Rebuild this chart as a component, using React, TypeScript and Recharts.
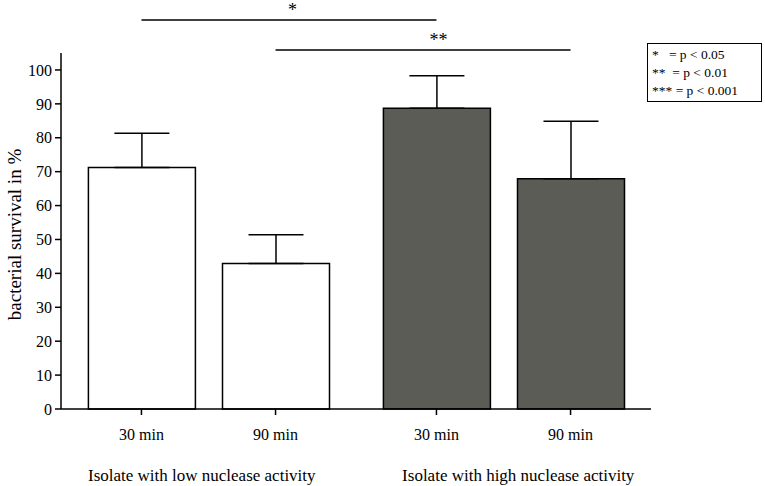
import React from "react";
import {
  BarChart,
  Bar,
  Cell,
  XAxis,
  YAxis,
  ErrorBar,
  ReferenceLine,
} from "recharts";

const categories = ["30 min", "90 min", "30 min", "90 min"];
const positions = [1, 2, 3.2, 4.2];
const survival = [71.2, 42.9, 88.7, 67.9];
const survivalErr = [10.1, 8.5, 9.6, 17.0];
const barFills = ["#ffffff", "#ffffff", "#5b5c56", "#5b5c56"];

const yTicks = [0, 10, 20, 30, 40, 50, 60, 70, 80, 90, 100];

const groupLabels = [
  "Isolate with low nuclease activity",
  "Isolate with high nuclease activity",
];
const groupPositions = [1.45, 3.81];

const comparisons = [
  { from: 0, to: 2, y: 114.7, label: "*", shift: 3.5 },
  { from: 1, to: 3, y: 105.9, label: "**", shift: 15.5 },
];

const legendLines = ["*   = p < 0.05", "**  = p < 0.01", "*** = p < 0.001"];

const font = "'Liberation Serif', 'Times New Roman', serif";

const data = positions.map((x, i) => ({
  x,
  name: categories[i],
  value: survival[i],
  err: [0, survivalErr[i]],
}));

export default function App() {
  return (
    <div
      style={{
        position: "absolute",
        left: 0,
        top: 0,
        width: 765,
        height: 486,
        background: "#fff",
        fontFamily: font,
      }}
    >
      <BarChart
        width={765}
        height={486}
        data={data}
        margin={{ top: 53, right: 114, left: 0, bottom: 0 }}
      >
        <XAxis
          xAxisId="a"
          type="number"
          dataKey="x"
          domain={[0.4, 4.8]}
          allowDataOverflow
          ticks={positions}
          interval={0}
          tickFormatter={(v: number) => categories[positions.indexOf(v)]}
          height={30}
          tickSize={6}
          tickMargin={14}
          axisLine={{ stroke: "#000", strokeWidth: 1.5 }}
          tickLine={{ stroke: "#000", strokeWidth: 1.5 }}
          tick={{ fill: "#000", fontSize: 16, fontFamily: font }}
        />
        <XAxis
          xAxisId="b"
          type="number"
          dataKey="x"
          domain={[0.4, 4.8]}
          allowDataOverflow
          ticks={groupPositions}
          interval={0}
          tickFormatter={(v: number) => groupLabels[groupPositions.indexOf(v)]}
          height={47}
          tickSize={0}
          tickMargin={30}
          axisLine={false}
          tickLine={false}
          tick={{ fill: "#000", fontSize: 17, fontFamily: font }}
        />
        <YAxis
          type="number"
          domain={[0, 105]}
          ticks={yTicks}
          interval={0}
          width={61}
          tickSize={6}
          tickMargin={3}
          axisLine={{ stroke: "#000", strokeWidth: 1.5 }}
          tickLine={{ stroke: "#000", strokeWidth: 1.5 }}
          tick={{ fill: "#000", fontSize: 16, fontFamily: font }}
          label={{
            content: () => (
              <text
                x={14}
                y={234.5}
                transform="rotate(-90 14 234.5)"
                textAnchor="middle"
                dominantBaseline="central"
                fontSize={19}
                fontFamily={font}
                fill="#000"
              >
                bacterial survival in %
              </text>
            ),
          }}
        />
        <Bar
          xAxisId="a"
          dataKey="value"
          barSize={107}
          stroke="#000"
          strokeWidth={1.5}
          isAnimationActive={false}
        >
          {data.map((d, i) => (
            <Cell key={i} fill={barFills[i]} />
          ))}
          <ErrorBar
            dataKey="err"
            width={27.5}
            stroke="#000"
            strokeWidth={1.5}
            isAnimationActive={false}
          />
        </Bar>
        {comparisons.map((c, i) => (
          <ReferenceLine
            key={i}
            xAxisId="a"
            ifOverflow="visible"
            segment={[
              { x: positions[c.from], y: c.y },
              { x: positions[c.to], y: c.y },
            ]}
            stroke="#000"
            strokeWidth={1.5}
            label={{
              value: c.label,
              position: "top",
              offset: 4,
              dx: c.shift,
              fill: "#000",
              fontSize: 18,
              fontFamily: font,
            }}
          />
        ))}
      </BarChart>
      <div
        style={{
          position: "absolute",
          left: 647,
          top: 43,
          width: 115,
          height: 59,
          boxSizing: "border-box",
          border: "1.5px solid #000",
          padding: "1.5px 0 0 4px",
          fontSize: 13.5,
          lineHeight: "18px",
          whiteSpace: "pre",
          color: "#000",
        }}
      >
        {legendLines.map((l, i) => (
          <div key={i}>{l}</div>
        ))}
      </div>
    </div>
  );
}
